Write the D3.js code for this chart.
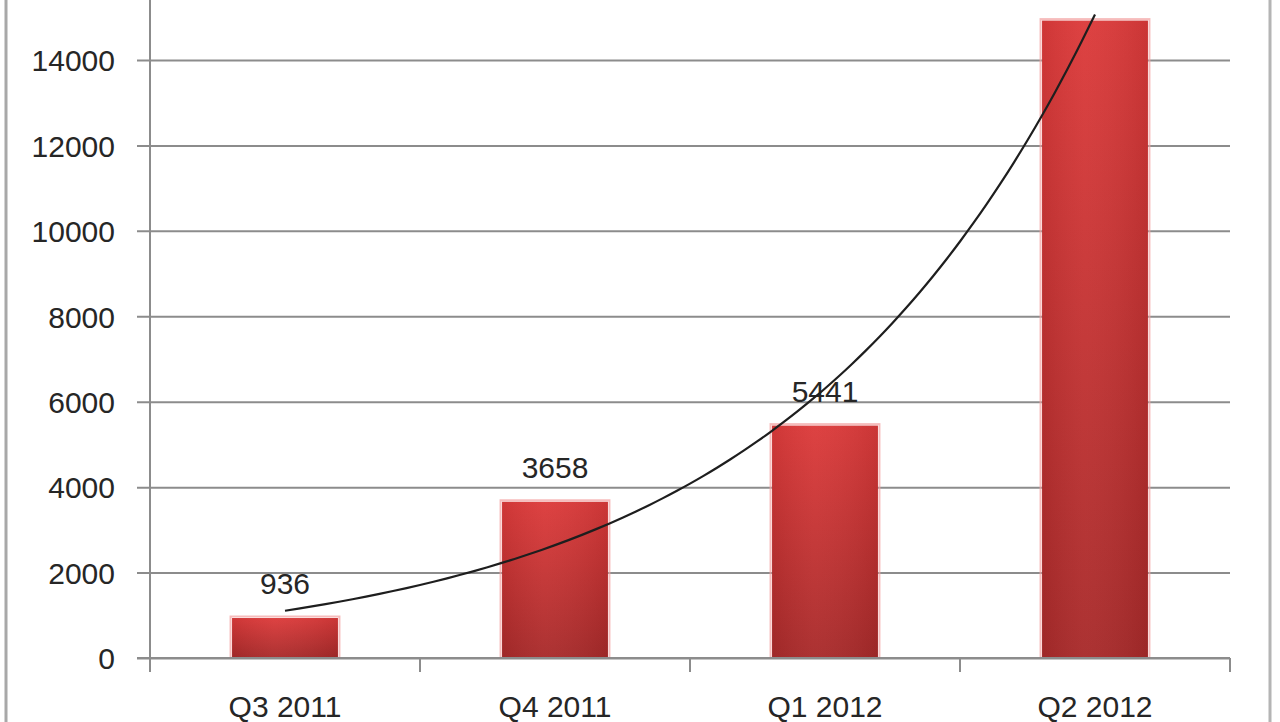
<!DOCTYPE html>
<html>
<head>
<meta charset="utf-8">
<script src="https://cdn.jsdelivr.net/npm/d3@7"></script>
<style>
  html, body { margin: 0; padding: 0; background: #fff; }
  svg { display: block; }
  text { font-family: "Liberation Sans", Arial, sans-serif; fill: #262626; }
</style>
</head>
<body>
<svg id="chart" width="1280" height="722"></svg>
<script>
const categories = ["Q3 2011", "Q4 2011", "Q1 2012", "Q2 2012"];
const values = [936, 3658, 5441, 14923];
const dataLabels = ["936", "3658", "5441", "14923"];
const yTicks = [0, 2000, 4000, 6000, 8000, 10000, 12000, 14000];

const svg = d3.select("#chart");
const W = 1280, H = 722;
const plot = { left: 150, right: 1230, top: 60, bottom: 658 };

const x = d3.scaleBand().domain(categories).range([plot.left, plot.right]).paddingInner(0.6078).paddingOuter(0.3039);
const y = d3.scaleLinear().domain([0, 14000]).range([plot.bottom, plot.top]);

// gradient
const defs = svg.append("defs");
const grad = defs.append("linearGradient").attr("id", "barGrad").attr("x1", 0).attr("y1", 0).attr("x2", 0).attr("y2", 1);
grad.append("stop").attr("offset", "0%").attr("stop-color", "#dc3a3a");
grad.append("stop").attr("offset", "100%").attr("stop-color", "#a82a2a");
const gradH = defs.append("linearGradient").attr("id", "barGradH").attr("x1", 0).attr("y1", 0).attr("x2", 1).attr("y2", 0);
gradH.append("stop").attr("offset", "0%").attr("stop-color", "#000").attr("stop-opacity", 0.06);
gradH.append("stop").attr("offset", "40%").attr("stop-color", "#fff").attr("stop-opacity", 0.04);
gradH.append("stop").attr("offset", "100%").attr("stop-color", "#000").attr("stop-opacity", 0.08);

// outer frame
svg.append("line").attr("x1", 6).attr("x2", 6).attr("y1", 0).attr("y2", H).attr("stroke", "#a8a8a8").attr("stroke-width", 3);
svg.append("line").attr("x1", 1270).attr("x2", 1270).attr("y1", 0).attr("y2", H).attr("stroke", "#b4b4b4").attr("stroke-width", 3);

// gridlines with outside ticks
const yAxis = d3.axisLeft(y).tickValues(yTicks).tickSize(-(plot.right - plot.left)).tickSizeOuter(0).tickPadding(22).tickFormat(d3.format("d"));
const gy = svg.append("g").attr("transform", `translate(${plot.left},0)`).call(yAxis);
gy.select(".domain").remove();
gy.selectAll(".tick line").attr("stroke", "#8c8c8c").attr("stroke-width", 2).attr("x1", -13);
gy.selectAll(".tick text").attr("font-size", 30).attr("fill", "#262626").attr("x", -35).attr("dy", "0.36em")
  .style("font-family", "'Liberation Sans', Arial, sans-serif");

// y axis line
svg.append("line").attr("x1", plot.left).attr("x2", plot.left).attr("y1", 0).attr("y2", plot.bottom + 12)
  .attr("stroke", "#8c8c8c").attr("stroke-width", 2);

// category axis ticks (between categories)
const boundaries = categories.map(c => x(c) - x.step() * x.paddingInner() / 2 + 0);
const tickXs = categories.map((c, i) => plot.left + i * x.step()).concat([plot.right]);
svg.append("g").selectAll("line").data(tickXs).join("line")
  .attr("x1", d => d).attr("x2", d => d).attr("y1", plot.bottom).attr("y2", plot.bottom + 14)
  .attr("stroke", "#8c8c8c").attr("stroke-width", 2);

// bars
const bars = svg.append("g");
bars.selectAll("rect.glow").data(values).join("rect").attr("class", "glow")
  .attr("x", (d, i) => x(categories[i]) - 1.5).attr("width", x.bandwidth() + 3)
  .attr("y", d => y(d) - 1.5).attr("height", d => y(0) - y(d) + 1.5)
  .attr("fill", "none").attr("stroke", "#f2a0a0").attr("stroke-width", 2).attr("stroke-opacity", 0.7);
bars.selectAll("rect.bar").data(values).join("rect").attr("class", "bar")
  .attr("x", (d, i) => x(categories[i])).attr("width", x.bandwidth())
  .attr("y", d => y(d)).attr("height", d => y(0) - y(d))
  .attr("fill", "url(#barGrad)");
bars.selectAll("rect.shade").data(values).join("rect").attr("class", "shade")
  .attr("x", (d, i) => x(categories[i])).attr("width", x.bandwidth())
  .attr("y", d => y(d)).attr("height", d => y(0) - y(d))
  .attr("fill", "url(#barGradH)");

// baseline over bars
svg.append("line").attr("x1", plot.left - 13).attr("x2", plot.right).attr("y1", plot.bottom).attr("y2", plot.bottom)
  .attr("stroke", "#8c8c8c").attr("stroke-width", 2);

// data labels
svg.append("g").selectAll("text").data(values).join("text")
  .attr("x", (d, i) => x(categories[i]) + x.bandwidth() / 2)
  .attr("y", d => y(d) - 24)
  .attr("text-anchor", "middle").attr("font-size", 30).attr("fill", "#333")
  .text((d, i) => dataLabels[i]);

// category labels
svg.append("g").selectAll("text").data(categories).join("text")
  .attr("x", d => x(d) + x.bandwidth() / 2).attr("y", 717)
  .attr("text-anchor", "middle").attr("font-size", 30).attr("fill", "#262626")
  .text(d => d);

// exponential trendline (least squares fit on ln(values), x = 1..n)
const n = values.length;
const xs = values.map((d, i) => i + 1);
const ls = values.map(d => Math.log(d));
const mx = d3.mean(xs), ml = d3.mean(ls);
const b = d3.sum(xs.map((xi, i) => (xi - mx) * (ls[i] - ml))) / d3.sum(xs.map(xi => (xi - mx) ** 2));
const lnA = ml - b * mx;
const xPos = t => x(categories[0]) + x.bandwidth() / 2 + (t - 1) * x.step();
const samples = d3.range(1, n + 0.001, 0.05);
const line = d3.line().x(t => xPos(t)).y(t => y(Math.exp(lnA + b * t))).curve(d3.curveMonotoneX);
svg.append("path").datum(samples).attr("d", line).attr("fill", "none").attr("stroke", "#1e1e1e").attr("stroke-width", 2.2);
</script>
</body>
</html>
